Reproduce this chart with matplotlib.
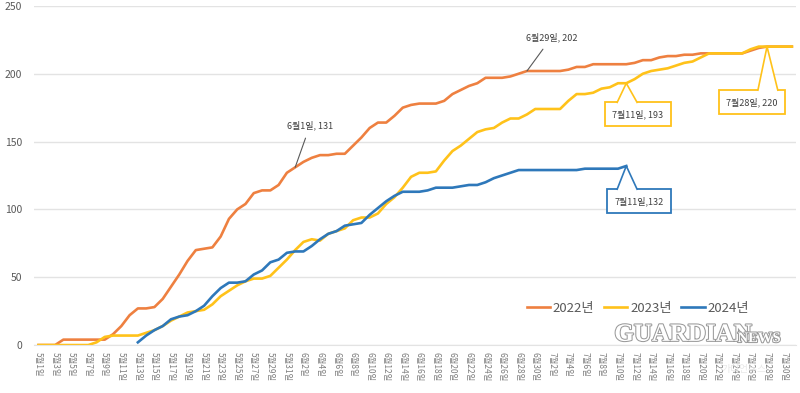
import numpy as np
import matplotlib
matplotlib.use("Agg")
import matplotlib.pyplot as plt
import matplotlib.patheffects as pe
from matplotlib.patches import Polygon

plt.rcParams['font.family'] = ['Noto Sans CJK KR', 'DejaVu Sans']

# daily cumulative counts, 5/1 .. 7/31 (92 days)
y2022 = [0, 0, 0, 4, 4, 4, 4, 4, 4, 8, 14, 22, 27, 27, 28, 34, 43, 52, 62, 70,
         71, 72, 80, 93, 100, 104, 112, 114, 114, 118, 127, 131, 135, 138, 140, 140, 141, 141, 147, 153,
         160, 164, 164, 169, 175, 177, 178, 178, 178, 180, 185, 188, 191, 193, 197, 197, 197, 198, 200, 202,
         202, 202, 202, 202, 203, 205, 205, 207, 207, 207, 207, 207, 208, 210, 210, 212, 213, 213, 214, 214,
         215, 215, 215, 215, 215, 215, 217, 219, 220, 220, 220, 220]
y2023 = [0, 0, 0, 0, 0, 0, 0, 2, 6, 7, 7, 7, 7, 9, 11, 14, 18, 21, 24, 25,
         26, 30, 36, 40, 44, 47, 49, 49, 51, 57, 63, 70, 76, 78, 77, 82, 84, 86, 92, 94,
         94, 97, 104, 109, 116, 124, 127, 127, 128, 136, 143, 147, 152, 157, 159, 160, 164, 167, 167, 170,
         174, 174, 174, 174, 180, 185, 185, 186, 189, 190, 193, 193, 196, 200, 202, 203, 204, 206, 208, 209,
         212, 215, 215, 215, 215, 215, 218, 220, 220, 220, 220, 220]
nan = np.nan
y2024 = [nan] * 12 + [2, 7, 11, 14, 19, 21, 22, 25,
         29, 36, 42, 46, 46, 47, 52, 55, 61, 63, 68, 69, 69, 73, 78, 82, 84, 88, 89, 90,
         96, 101, 106, 110, 113, 113, 113, 114, 116, 116, 116, 117, 118, 118, 120, 123, 125, 127, 129, 129,
         129, 129, 129, 129, 129, 129, 130, 130, 130, 130, 130, 132] + [nan] * 20

tick_labels = ["5월1일", "5월3일", "5월5일", "5월7일", "5월9일", "5월11일", "5월13일", "5월15일",
               "5월17일", "5월19일", "5월21일", "5월23일", "5월25일", "5월27일", "5월29일", "5월31일",
               "6월2일", "6월4일", "6월6일", "6월8일", "6월10일", "6월12일", "6월14일", "6월16일",
               "6월18일", "6월20일", "6월22일", "6월24일", "6월26일", "6월28일", "6월30일",
               "7월2일", "7월4일", "7월6일", "7월8일", "7월10일", "7월12일", "7월14일", "7월16일",
               "7월18일", "7월20일", "7월22일", "7월24일", "7월26일", "7월28일", "7월30일"]

c22 = '#EE8040'
c23 = '#FFC21A'
c24 = '#2E78BA'

fig = plt.figure(figsize=(8, 3.93), dpi=100)
ax = fig.add_axes([0.043, 0.122, 0.952, 0.863])

days = np.arange(len(y2022))
ax.plot(days, y2022, color=c22, lw=1.9, label='2022년')
ax.plot(days, y2023, color=c23, lw=1.9, label='2023년')
ax.plot(days, y2024, color=c24, lw=1.9, label='2024년')

ax.set_xlim(-0.5, 91.5)
ax.set_ylim(0, 250)
ax.set_yticks([0, 50, 100, 150, 200, 250])
ax.grid(axis='y', color='#E3E3E3', lw=1)
ax.set_axisbelow(True)
for s in ['top', 'right', 'left']:
    ax.spines[s].set_visible(False)
ax.spines['bottom'].set_color('#E3E3E3')
ax.tick_params(axis='y', length=0, pad=9, labelsize=7.5, labelcolor='#595959')
ax.set_xticks(days[::2])
ax.set_xticklabels(tick_labels, rotation=270, fontsize=6, color='#7F7F7F')
ax.tick_params(axis='x', length=0, pad=5)

leg = ax.legend(loc='center', bbox_to_anchor=(0.797, 0.216), bbox_transform=fig.transFigure,
                ncol=3, frameon=False, fontsize=9.5, handlelength=1.8, handletextpad=0.2,
                columnspacing=0.7)
for t in leg.get_texts():
    t.set_color('#595959')

# plain labels with leader lines
ax.annotate('6월1일, 131', xy=(31, 131), xytext=(32.8, 162), fontsize=6.5, color='#404040',
            ha='center', va='center',
            arrowprops=dict(arrowstyle='-', color='#595959', lw=0.8, shrinkA=4, shrinkB=0))
ax.annotate('6월29일, 202', xy=(59, 202), xytext=(62, 227), fontsize=6.5, color='#404040',
            ha='center', va='center',
            arrowprops=dict(arrowstyle='-', color='#595959', lw=0.8, shrinkA=4, shrinkB=0))

# callout boxes (text, point, box centre, colour)
callouts = [('7월11일, 193', (71, 193), (72.4, 170), c23),
            ('7월28일, 220', (88, 220), (86.2, 179), c23),
            ('7월11일,132', (71, 132), (72.5, 106), c24)]
boxes = []
for text, xy, center, col in callouts:
    t = ax.text(center[0], center[1], text, fontsize=6.5, color='#404040',
                ha='center', va='center', zorder=4,
                bbox=dict(boxstyle='square,pad=0.8', fc='white', ec=col, lw=1.3))
    boxes.append(t)

fig.canvas.draw()
inv = ax.transData.inverted()
for t, (text, xy, center, col) in zip(boxes, callouts):
    ext = t.get_bbox_patch().get_window_extent()
    top = inv.transform((0, ext.y1))[1]
    bx = xy[0] + 0.1
    hw = 1.2
    ax.add_patch(Polygon([(bx - hw, top - 1.5), (bx - hw, top), xy,
                          (bx + hw, top), (bx + hw, top - 1.5)],
                         closed=True, fc='white', ec='none', zorder=5))
    ax.plot([bx - hw, xy[0], bx + hw], [top, xy[1], top], color=col,
            lw=1.2, zorder=6)

# watermark
stroke = [pe.withStroke(linewidth=1.5, foreground='#9A9A9A')]
fig.text(0.768, 0.12, 'GUARDIAN', fontsize=18, fontweight='bold', family='Liberation Serif',
         color='white', ha='left', va='bottom', path_effects=stroke)
fig.text(0.922, 0.122, 'NEWS', fontsize=10.5, fontweight='bold', family='Liberation Serif',
         color='white', ha='left', va='bottom', path_effects=stroke)
fig.text(0.93, 0.06, '가디언뉴스', fontsize=7, color='#E8E8E8', ha='center', va='center')

fig.savefig('out.png', dpi=100)
